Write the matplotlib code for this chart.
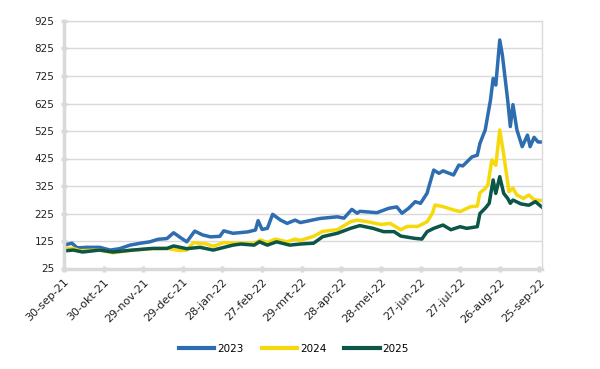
import matplotlib
matplotlib.use("Agg")
import matplotlib.pyplot as plt
import pandas as pd

start_date = "2021-09-30"

# day offsets from 30-sep-21 and values per series
days_2023 = [0, 6, 10, 17, 27, 35, 42, 50, 58, 65, 71, 78, 83, 88, 93, 99, 105, 111, 118, 121,
             128, 139, 145, 147, 150, 154, 158, 164, 169, 175, 179, 194, 207, 212, 218, 222, 224,
             237, 246, 252, 256, 261, 266, 270, 275, 276, 278, 280, 284, 287, 295, 299, 302, 309,
             313, 315, 319, 323, 325, 327, 330, 332, 336, 338, 340, 343, 347, 351, 353, 356, 359, 362]
vals_2023 = [110, 117, 100, 102, 102, 92, 97, 110, 117, 122, 131, 134, 155, 138, 122, 161, 147, 140, 142, 162,
             153, 158, 165, 199, 167, 171, 222, 201, 189, 201, 192, 207, 213, 208, 240, 226, 233,
             228, 244, 249, 226, 244, 268, 262, 299, 317, 350, 383, 371, 380, 365, 401, 398, 431,
             437, 480, 529, 638, 716, 692, 856, 801, 638, 541, 621, 529, 468, 510, 468, 502, 485, 485]

days_2024 = [0, 7, 12, 27, 37, 52, 67, 78, 88, 93, 98, 108, 113, 121, 134, 144, 149, 154, 160, 169,
             175, 179, 189, 196, 207, 217, 222, 230, 240, 247, 255, 260, 268, 275, 279, 281, 287, 295,
             300, 308, 313, 315, 319, 321, 324, 327, 330, 333, 337, 340, 343, 348, 352, 356, 362]
vals_2024 = [98, 98, 90, 92, 82, 92, 97, 98, 90, 92, 119, 114, 106, 119, 117, 117, 129, 119, 132, 122,
             132, 127, 142, 160, 166, 195, 201, 195, 185, 189, 166, 178, 178, 195, 226, 256, 250, 238,
             232, 250, 252, 300, 316, 329, 420, 400, 529, 440, 304, 317, 292, 280, 292, 275, 272]

days_2025 = [0, 7, 14, 27, 37, 52, 67, 78, 83, 93, 103, 113, 128, 134, 144, 148, 154, 161, 171, 179,
             189, 196, 207, 217, 224, 234, 242, 250, 255, 265, 271, 275, 280, 287, 293, 300, 305, 313,
             315, 319, 322, 325, 327, 330, 333, 336, 338, 340, 346, 352, 357, 362]
vals_2025 = [89, 92, 85, 92, 85, 92, 98, 98, 107, 97, 102, 92, 110, 114, 110, 122, 110, 122, 110, 114,
             117, 141, 153, 171, 181, 171, 159, 159, 143, 135, 132, 159, 171, 183, 166, 177, 171, 177,
             225, 244, 262, 347, 298, 359, 298, 280, 262, 274, 260, 255, 268, 248]

series_names = ["2023", "2024", "2025"]
series_colors = ["#2E6DB0", "#F5D90A", "#0B5549"]

tick_days = list(range(0, 361, 30))
tick_labels = ["30-sep-21", "30-okt-21", "29-nov-21", "29-dec-21", "28-jan-22", "27-feb-22",
               "29-mrt-22", "28-apr-22", "28-mei-22", "27-jun-22", "27-jul-22", "26-aug-22", "25-sep-22"]
y_ticks = list(range(25, 926, 100))

t0 = pd.Timestamp(start_date)
def to_dates(d):
    return t0 + pd.to_timedelta(d, unit="D")

fig = plt.figure(figsize=(6.0, 3.69), dpi=100)
ax = fig.add_axes([64/600, (369-268.5)/369, (542-64)/600, (268.5-21)/369])

grid_c = "#D9D9D9"
for days, vals, name, col in zip([days_2023, days_2024, days_2025],
                                 [vals_2023, vals_2024, vals_2025],
                                 series_names, series_colors):
    ax.plot(to_dates(days), vals, color=col, lw=2.5, label=name, solid_joinstyle="round")

ax.set_ylim(25, 925)
ax.set_yticks(y_ticks)
ax.set_xlim(to_dates([0])[0], to_dates([362])[0])
ax.set_xticks(to_dates(tick_days))
ax.set_xticklabels(tick_labels, rotation=45, ha="right", rotation_mode="anchor")

ax.grid(axis="y", color=grid_c, lw=1.0)
ax.set_axisbelow(True)
for s in ["top", "right"]:
    ax.spines[s].set_color(grid_c)
    ax.spines[s].set_linewidth(1.0)
for s in ["left", "bottom"]:
    ax.spines[s].set_color(grid_c)
    ax.spines[s].set_linewidth(2.5)
ax.tick_params(axis="both", colors=grid_c, labelcolor="#222222",
               length=4, width=2.5, direction="inout")
ax.tick_params(axis="y", pad=5, labelsize=7.5)
ax.tick_params(axis="x", pad=4, labelsize=8)

leg = fig.legend(loc="center", bbox_to_anchor=(294/600, 1-349/369), ncol=3, frameon=False,
                 fontsize=7.5, handlelength=3.4, handletextpad=0.3, columnspacing=1.7)
for line in leg.get_lines():
    line.set_linewidth(3)

fig.savefig("out.png", dpi=100)
